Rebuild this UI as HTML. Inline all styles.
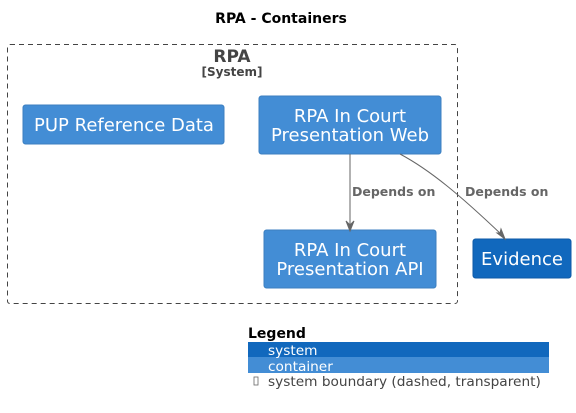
<!DOCTYPE html>
<html><head><meta charset="utf-8"><style>
html,body{margin:0;padding:0;background:#fff;}
svg{display:block;font-family:"DejaVu Sans","Liberation Sans",sans-serif;}
</style></head><body>
<svg width="576" height="413" viewBox="0 0 576 413" xmlns="http://www.w3.org/2000/svg">
<text x="281" y="23" text-anchor="middle" font-size="14" font-weight="bold" fill="#000">RPA - Containers</text>
<rect x="7.5" y="44.5" width="450" height="259" rx="2.5" fill="none" stroke="#444" stroke-dasharray="5,4"/>
<text x="232" y="62" text-anchor="middle" font-size="17" font-weight="bold" fill="#444">RPA</text>
<text x="232" y="76" text-anchor="middle" font-size="12" font-weight="bold" fill="#444">[System]</text>
<rect x="23" y="105" width="201" height="39" rx="2.5" fill="#438dd5" stroke="#3c7fc0"/>
<text x="124" y="131" text-anchor="middle" font-size="18" fill="#fff">PUP Reference Data</text>
<rect x="259" y="96" width="182" height="58" rx="2.5" fill="#438dd5" stroke="#3c7fc0"/>
<text x="350" y="122" text-anchor="middle" font-size="18" fill="#fff">RPA In Court</text>
<text x="350" y="141" text-anchor="middle" font-size="18" fill="#fff">Presentation Web</text>
<rect x="264" y="230" width="172" height="58" rx="2.5" fill="#438dd5" stroke="#3c7fc0"/>
<text x="350" y="256" text-anchor="middle" font-size="18" fill="#fff">RPA In Court</text>
<text x="350" y="275" text-anchor="middle" font-size="18" fill="#fff">Presentation API</text>
<rect x="473" y="239" width="98" height="39" rx="2.5" fill="#1168bd" stroke="#0e5aa7"/>
<text x="522" y="265" text-anchor="middle" font-size="18" fill="#fff">Evidence</text>
<line x1="350" y1="154" x2="350" y2="226" stroke="#666"/>
<polygon points="346,221 350,231 354,221 350,225" fill="#666" stroke="#666"/>
<path d="M400,154 C430,170 460,195 503,236" fill="none" stroke="#666"/>
<polygon points="497,233 505,239 501,229 500,233" fill="#666" stroke="#666"/>
<text x="352" y="196" font-size="12.5" font-weight="bold" fill="#666">Depends on</text>
<text x="465" y="196" font-size="12.5" font-weight="bold" fill="#666">Depends on</text>
<text x="248" y="338" font-size="14" font-weight="bold" fill="#000">Legend</text>
<rect x="248" y="342" width="301" height="15" fill="#1168bd"/>
<rect x="248" y="357" width="301" height="16" fill="#438dd5"/>
<text x="268" y="355" font-size="13.7" fill="#fff">system</text>
<text x="268" y="371" font-size="13.7" fill="#fff">container</text>
<rect x="254" y="377" width="4" height="8" fill="none" stroke="#666" stroke-width="0.8"/>
<text x="268" y="386" font-size="13.7" fill="#444">system boundary (dashed, transparent)</text>
</svg>
</body></html>
